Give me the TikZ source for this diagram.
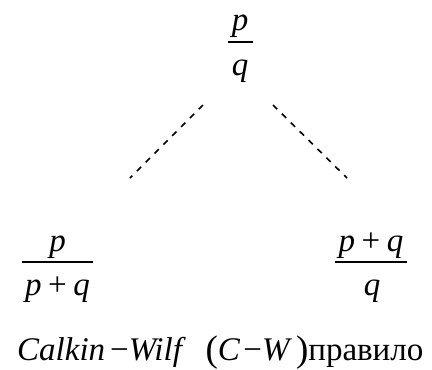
\documentclass[tikz,border=0pt]{standalone}
\usepackage{fontspec}
\setmainfont{Liberation Serif}
\newcommand{\bigpar}[1]{\raisebox{-1.5pt}{\fontsize{37}{40}\selectfont #1}}
\begin{document}
\begin{tikzpicture}[x=1pt,y=1pt,
  frac/.style={inner sep=0pt,anchor=base,font=\fontsize{33}{40}\selectfont},
  captext/.style={inner sep=0pt,anchor=base west,font=\fontsize{33}{40}\selectfont},
  fbar/.style={line width=1.3pt},
  dashline/.style={line width=1.6pt,dash pattern=on 6pt off 6.5pt}]
\useasboundingbox (0,0) rectangle (432,-370);
% top
\node[frac] (tn) at (240,-30) {\textit{p}};
\node[frac] (td) at (240,-75) {\textit{q}};
\draw[fbar] (228,-42) coordinate (tb1) -- (253,-42) coordinate (tb2);
% left
\node[frac] (ln) at (57.5,-251) {\textit{p}};
\node[frac] (ld) at (57.5,-295) {\textit{p}\hspace{0.2em}+\hspace{0.2em}\textit{q}};
\draw[fbar] (22,-262) coordinate (lb1) -- (93,-262) coordinate (lb2);
% right
\node[frac] (rn) at (371,-251) {\textit{p}\hspace{0.2em}+\hspace{0.2em}\textit{q}};
\node[frac] (rd) at (372,-295) {\textit{q}};
\draw[fbar] (335,-262) coordinate (rb1) -- (407,-262) coordinate (rb2);
% dashed connectors
\coordinate (a1) at (203,-105);
\coordinate (a2) at (130,-178);
\coordinate (b1) at (273,-105);
\coordinate (b2) at (347,-178);
\draw[dashline] (a1) -- (a2);
\draw[dashline] (b1) -- (b2);
% caption
\node[captext] (capt) at (17,-360) {\textit{Calkin}\hspace{0.15em}−\textit{Wilf}\hspace{0.6em}\bigpar{(}\textit{C}\hspace{0.1em}−\textit{W}\hspace{0.12em}\bigpar{)}правило};
\end{tikzpicture}
\end{document}
